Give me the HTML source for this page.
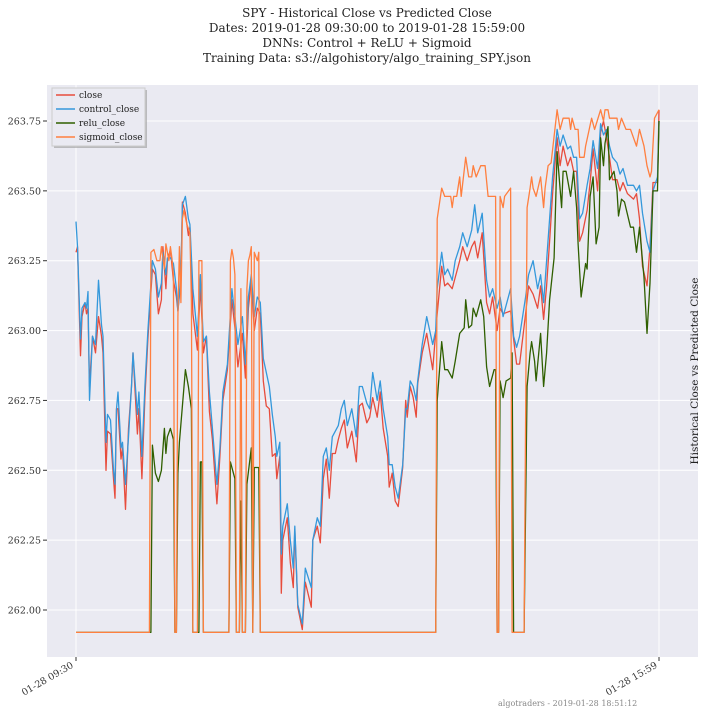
<!DOCTYPE html>
<html><head><meta charset="utf-8">
<style>
body{margin:0;background:#fff;width:708px;height:714px;overflow:hidden;font-family:"DejaVu Serif","Liberation Serif",serif;}
svg text{font-family:"DejaVu Serif","Liberation Serif",serif;}
</style></head>
<body>
<svg id="chart" width="708" height="714" xmlns="http://www.w3.org/2000/svg">
<g font-size="12" text-anchor="middle" fill="#222">
<text x="367" y="17">SPY - Historical Close vs Predicted Close</text>
<text x="367" y="32">Dates: 2019-01-28 09:30:00 to 2019-01-28 15:59:00</text>
<text x="367" y="47">DNNs: Control + ReLU + Sigmoid</text>
<text x="367" y="62">Training Data: s3://algohistory/algo_training_SPY.json</text>
</g>
<rect x="47" y="85" width="651" height="572" fill="#eaeaf2"/>
<g id="grid"></g>
<g id="yaxis" font-size="9.5" fill="#333"></g>
<g id="series"></g>
<g font-size="9.5" fill="#333">
<text transform="translate(74,667) rotate(-30)" text-anchor="end">01-28 09:30</text>
<text transform="translate(658,667) rotate(-30)" text-anchor="end">01-28 15:59</text>
</g>
<text transform="translate(698,371) rotate(-90)" text-anchor="middle" font-size="10.5" fill="#222">Historical Close vs Predicted Close</text>
<text x="498" y="706" font-size="8" fill="#888">algotraders - 2019-01-28 18:51:12</text>
<g>
<rect x="54" y="90" width="93" height="58" fill="#999" opacity="0.6"/>
<rect x="52" y="88" width="93" height="58" fill="#eaeaf2" stroke="#ccc" stroke-width="1"/>
<g font-size="9" fill="#222">
<line x1="56" y1="95" x2="75" y2="95" stroke="#e74c3c" stroke-width="1.5"/><text x="79" y="98">close</text>
<line x1="56" y1="109" x2="75" y2="109" stroke="#3498db" stroke-width="1.5"/><text x="79" y="112">control_close</text>
<line x1="56" y1="123" x2="75" y2="123" stroke="#2f5f00" stroke-width="1.5"/><text x="79" y="126">relu_close</text>
<line x1="56" y1="137" x2="75" y2="137" stroke="#ff7f3f" stroke-width="1.5"/><text x="79" y="140">sigmoid_close</text>
</g></g>
</svg>
<script>
const yTicks=[262.00,262.25,262.50,262.75,263.00,263.25,263.50,263.75];
const yTickLabels=["262.00","262.25","262.50","262.75","263.00","263.25","263.50","263.75"];
const xTickMinutes=[0,389];
const closeMinutes=[0,1,3,4,6,7,8,9,11,13,15,17,18,20,21,23,25,26,27,28,30,31,33,35,37,38,41,42,44,46,48,51,53,55,57,58,60,61,63,65,67,68,70,71,73,75,76,78,81,83,85,87,89,91,94,96,98,101,104,106,108,111,113,115,117,119,121,123,125,127,129,131,133,134,136,137,138,141,143,145,146,148,151,153,157,158,161,163,165,167,169,171,173,175,177,179,181,184,187,189,191,194,196,198,201,203,205,208,209,211,213,215,218,220,221,223,225,227,228,231,234,238,241,244,246,248,251,253,256,258,261,264,266,268,271,274,276,278,281,283,285,290,292,294,296,300,302,305,308,310,312,314,316,318,321,323,325,328,330,332,334,336,338,341,343,345,348,350,352,354,356,358,361,363,365,368,370,372,374,376,378,381,383,385,388,389];
const closeValues=[263.28,263.30,262.91,263.05,263.10,263.06,263.08,262.80,262.98,262.92,263.05,262.98,262.92,262.50,262.64,262.63,262.47,262.40,262.72,262.72,262.54,262.58,262.36,262.65,262.80,262.92,262.63,262.72,262.47,262.76,262.97,263.22,263.20,263.06,263.11,263.30,263.15,263.25,263.29,263.18,263.12,263.07,263.18,263.46,263.42,263.34,263.37,263.06,262.93,263.16,262.92,262.98,262.71,262.61,262.38,262.55,262.75,262.86,263.11,263.01,262.87,262.99,262.83,263.08,263.18,263.00,263.08,263.06,262.82,262.73,262.72,262.55,262.56,262.47,262.55,262.06,262.25,262.33,262.17,262.08,262.29,262.01,261.93,262.10,262.01,262.25,262.30,262.24,262.47,262.54,262.40,262.56,262.56,262.61,262.65,262.68,262.58,262.64,262.53,262.73,262.74,262.67,262.69,262.76,262.69,262.78,262.65,262.55,262.44,262.49,262.39,262.37,262.51,262.75,262.69,262.80,262.76,262.69,262.81,262.92,262.99,262.86,263.06,263.23,263.16,263.17,263.15,263.19,263.25,263.30,263.25,263.30,263.32,263.26,263.35,263.10,263.06,263.12,263.00,263.08,263.06,263.07,262.97,262.88,262.88,263.06,263.16,263.13,263.08,263.16,263.04,263.16,263.32,263.49,263.69,263.59,263.66,263.59,263.62,263.57,263.57,263.32,263.35,263.43,263.53,263.65,263.50,263.71,263.75,263.69,263.62,263.54,263.54,263.50,263.53,263.49,263.48,263.47,263.49,263.40,263.23,263.16,263.30,263.53,263.53,263.79];
const controlMinutes=[0,1,3,4,6,7,8,9,11,13,15,17,18,20,21,23,25,26,27,28,30,31,33,35,37,38,41,42,44,46,48,51,53,55,57,58,60,61,63,65,67,68,70,71,73,75,76,78,81,83,85,87,89,91,94,96,98,101,104,106,108,111,113,115,117,119,121,123,125,127,129,131,133,134,136,137,138,141,143,145,146,148,151,153,157,158,161,163,165,167,169,171,173,175,177,179,181,184,187,189,191,194,196,198,201,203,205,208,209,211,213,215,218,220,221,223,225,227,228,231,234,238,240,241,244,246,248,251,253,256,258,261,264,266,268,271,274,276,278,281,283,285,290,292,294,296,300,302,305,308,310,312,314,316,318,321,323,325,328,330,332,334,336,338,341,343,345,348,350,352,354,356,358,361,363,365,368,370,372,374,376,378,381,383,385,388,389];
const controlValues=[263.39,263.30,262.97,263.08,263.10,263.08,263.14,262.75,262.98,262.95,263.18,263.02,262.98,262.60,262.70,262.68,262.50,262.45,262.72,262.78,262.58,262.60,262.45,262.62,262.80,262.92,262.70,262.78,262.55,262.80,263.00,263.25,263.22,263.12,263.17,263.28,263.20,263.26,263.26,263.24,263.15,263.07,263.20,263.45,263.48,263.40,263.38,263.15,262.98,263.20,262.96,262.98,262.78,262.65,262.45,262.58,262.78,262.88,263.15,263.05,262.95,263.05,262.88,263.12,263.20,263.05,263.12,263.10,262.90,262.85,262.80,262.70,262.62,262.55,262.60,262.20,262.30,262.38,262.25,262.15,262.30,262.02,261.95,262.15,262.08,262.25,262.33,262.30,262.55,262.58,262.50,262.62,262.64,262.66,262.72,262.75,262.66,262.72,262.62,262.80,262.80,262.74,262.72,262.85,262.75,262.82,262.72,262.62,262.52,262.52,262.44,262.40,262.52,262.72,262.72,262.82,262.80,262.75,262.82,262.95,263.05,262.95,263.00,263.15,263.28,263.20,263.22,263.18,263.25,263.30,263.35,263.30,263.36,263.45,263.35,263.42,263.18,263.12,263.15,263.08,263.12,263.05,263.15,262.98,262.94,262.98,263.12,263.20,263.25,263.15,263.20,263.10,263.25,263.40,263.55,263.72,263.66,263.70,263.65,263.66,263.62,263.62,263.40,263.42,263.52,263.58,263.68,263.58,263.74,263.70,263.72,263.66,263.62,263.60,263.56,263.58,263.52,263.52,263.52,263.50,263.52,263.42,263.32,263.28,263.50,263.55,263.75];
const reluMinutes=[0,50,51,53,55,57,59,60,61,63,65,66,67,68,69,73,75,77,78,82,83,84,85,102,103,106,107,109,110,111,113,114,117,118,119,122,123,240,241,244,246,248,251,253,256,259,260,262,264,265,267,270,272,274,276,279,280,281,282,283,285,287,290,291,292,299,301,303,304,306,307,310,312,314,316,319,321,324,325,327,330,332,334,335,337,340,341,343,345,347,349,350,352,353,355,356,359,361,362,364,366,370,372,374,376,379,381,383,385,388,389];
const reluValues=[261.92,261.92,262.59,262.49,262.46,262.50,262.65,262.56,262.62,262.65,262.61,261.92,261.92,262.49,262.60,262.86,262.80,262.72,261.92,261.92,262.53,262.53,261.92,261.92,262.53,262.47,261.92,261.92,262.39,261.92,261.92,262.45,262.58,261.92,262.51,262.51,261.92,261.92,262.75,262.96,262.86,262.86,262.83,262.89,262.99,263.01,263.11,263.01,263.02,263.08,263.05,263.11,263.05,262.87,262.80,262.86,262.86,261.92,261.92,262.82,262.76,262.82,262.83,262.92,261.92,261.92,262.80,262.92,262.96,262.89,262.82,262.99,262.80,262.92,263.11,263.26,263.64,263.44,263.57,263.57,263.48,263.57,263.44,263.31,263.12,263.24,263.22,263.48,263.55,263.31,263.37,263.69,263.59,263.67,263.73,263.54,263.57,263.50,263.41,263.47,263.46,263.37,263.37,263.28,263.37,263.19,262.99,263.17,263.50,263.50,263.75];
const sigmoidMinutes=[0,49,50,52,54,56,57,59,60,62,63,64,65,66,67,68,69,70,71,72,74,76,77,78,81,82,84,85,102,103,104,105,106,107,109,110,111,113,114,115,116,117,118,119,121,122,123,240,241,244,246,250,251,252,254,256,257,260,262,264,265,267,270,273,275,280,281,282,283,285,286,290,291,299,301,303,304,305,307,310,312,313,315,317,321,323,325,329,330,331,333,335,336,339,340,342,344,346,350,352,353,355,356,361,362,364,367,370,372,374,376,379,381,383,384,386,389];
const sigmoidValues=[261.92,261.92,263.28,263.29,263.25,263.25,263.30,263.22,263.31,263.25,263.30,263.26,263.20,261.92,261.92,263.05,263.30,263.10,263.40,263.43,263.38,263.35,263.10,261.92,261.92,263.25,263.25,261.92,261.92,263.25,263.29,263.26,263.20,261.92,261.92,263.15,261.92,261.92,263.15,263.25,263.27,263.30,261.92,263.28,263.25,263.28,261.92,261.92,263.40,263.51,263.48,263.48,263.44,263.48,263.48,263.55,263.48,263.62,263.55,263.55,263.59,263.55,263.59,263.59,263.48,263.48,261.92,261.92,263.48,263.44,263.48,263.51,261.92,261.92,263.44,263.51,263.55,263.51,263.48,263.55,263.44,263.51,263.59,263.60,263.79,263.72,263.76,263.76,263.72,263.76,263.72,263.72,263.62,263.62,263.66,263.71,263.76,263.72,263.79,263.75,263.79,263.79,263.76,263.76,263.72,263.76,263.72,263.72,263.69,263.66,263.72,263.66,263.59,263.55,263.57,263.76,263.79];

const X0=76,X1=659,MIN0=0,MIN1=389;
const Y_A=610,Y_B=121,V_A=262.00,V_B=263.75;
function xs(m){return X0+(m-MIN0)*(X1-X0)/(MIN1-MIN0);}
function ys(v){return Y_A+(v-V_A)*(Y_B-Y_A)/(V_B-V_A);}
const NS="http://www.w3.org/2000/svg";
const grid=document.getElementById('grid'),yax=document.getElementById('yaxis'),ser=document.getElementById('series');
yTicks.forEach((t,i)=>{
  const y=ys(t);
  const l=document.createElementNS(NS,'line');
  
  
  l.setAttribute('x1',47);l.setAttribute('x2',698);l.setAttribute('y1',y);l.setAttribute('y2',y);
  l.setAttribute('stroke','#fff');l.setAttribute('stroke-width','1');
  grid.appendChild(l);
  const tk=document.createElementNS(NS,'line');
  
  
  tk.setAttribute('x1',43);tk.setAttribute('x2',47);tk.setAttribute('y1',y);tk.setAttribute('y2',y);
  tk.setAttribute('stroke','#333');
  yax.appendChild(tk);
  const tx=document.createElementNS(NS,'text');
  
  
  tx.setAttribute('x',41);tx.setAttribute('y',y+3.5);tx.setAttribute('text-anchor','end');
  tx.textContent=yTickLabels[i];
  yax.appendChild(tx);
});
xTickMinutes.forEach(m=>{
  const x=xs(m);
  const l=document.createElementNS(NS,'line');
  
  
  l.setAttribute('x1',x);l.setAttribute('x2',x);l.setAttribute('y1',85);l.setAttribute('y2',657);
  l.setAttribute('stroke','#fff');
  grid.appendChild(l);
  const tk=document.createElementNS(NS,'line');
  
  
  tk.setAttribute('x1',x);tk.setAttribute('x2',x);tk.setAttribute('y1',657);tk.setAttribute('y2',661);
  tk.setAttribute('stroke','#333');
  grid.appendChild(tk);
});
function drawLine(mins,vals,color,name){
  const p=document.createElementNS(NS,'polyline');
  
  
  const n=Math.min(mins.length,vals.length);
  let pts=[];
  for(let i=0;i<n;i++)pts.push(xs(mins[i]).toFixed(1)+','+ys(vals[i]).toFixed(1));
  p.setAttribute('points',pts.join(' '));
  p.setAttribute('fill','none');p.setAttribute('stroke',color);p.setAttribute('stroke-width','1.3');
  p.setAttribute('stroke-linejoin','round');
  ser.appendChild(p);
}
drawLine(closeMinutes,closeValues,'#e74c3c','close-line');
drawLine(controlMinutes,controlValues,'#3498db','control-close-line');
drawLine(reluMinutes,reluValues,'#2f5f00','relu-close-line');
drawLine(sigmoidMinutes,sigmoidValues,'#ff7f3f','sigmoid-close-line');
</script>
</body></html>
